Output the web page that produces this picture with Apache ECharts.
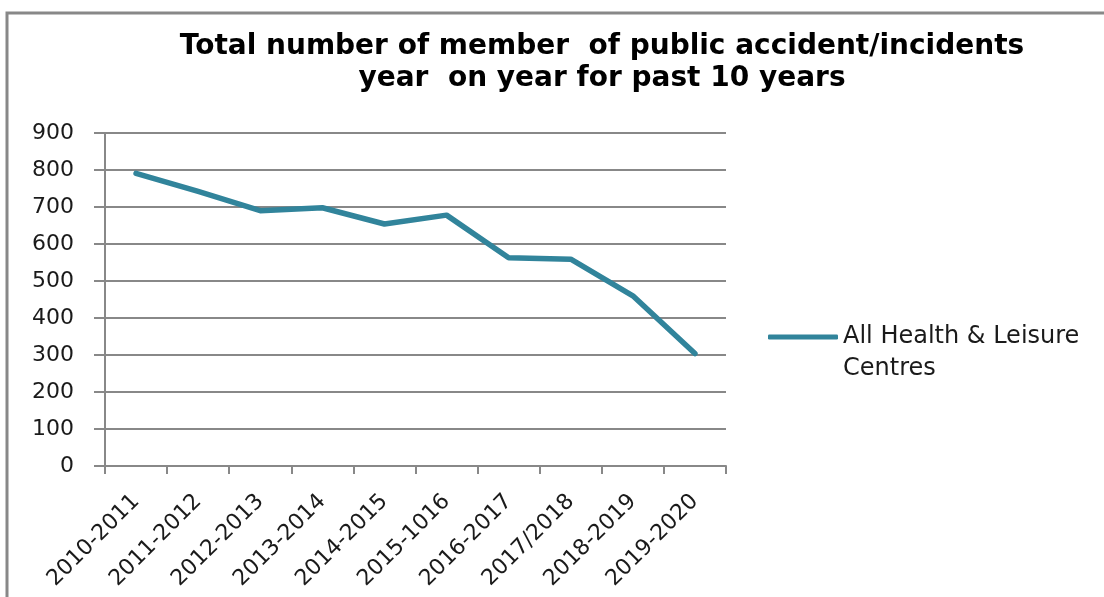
<!DOCTYPE html>
<html>
<head>
<meta charset="utf-8">
<script src="https://cdn.jsdelivr.net/npm/echarts@6/dist/echarts.min.js"></script>
<style>
  html, body { margin: 0; padding: 0; background: #ffffff; }
  #chart { width: 1104px; height: 597px; }
</style>
</head>
<body>
<div id="chart"></div>
<script>
// Seasons covered by the report
const seasons = ['2010-2011', '2011-2012', '2012-2013', '2013-2014', '2014-2015',
                 '2015-1016', '2016-2017', '2017/2018', '2018-2019', '2019-2020'];
// Member-of-public accidents/incidents across all centres
const incidents = [791, 742, 690, 698, 654, 678, 563, 559, 460, 304];
const seriesName = 'All Health & Leisure Centres';
const legendLines = ['All Health & Leisure', 'Centres'];
const titleLines = ['Total number of member  of public accident/incidents',
                    'year  on year for past 10 years'];

const labelFont = 'DejaVu Sans';
const grey = '#888888';
const teal = '#31849B';

const chart = echarts.init(document.getElementById('chart'), null, { renderer: 'canvas' });
chart.setOption({
  backgroundColor: '#ffffff',
  animation: false,
  graphic: [{
    type: 'rect',
    shape: { x: 7, y: 13, width: 1200, height: 700 },
    style: { fill: 'none', stroke: grey, lineWidth: 3 },
    silent: true
  }],
  title: {
    text: titleLines.join('\n'),
    left: 597,
    top: 26,
    textAlign: 'center',
    textStyle: {
      fontFamily: 'DejaVu Sans',
      fontWeight: 'bold',
      fontSize: 28,
      lineHeight: 32,
      color: '#000000'
    }
  },
  legend: {
    left: 763,
    top: 284,
    orient: 'vertical',
    itemWidth: 70,
    itemHeight: 5,
    icon: 'roundRect',
    // blank first line keeps the line icon level with the first text line
    formatter: () => '\n' + legendLines.join('\n'),
    textStyle: {
      fontFamily: labelFont,
      fontSize: 24,
      lineHeight: 32,
      color: '#1a1a1a'
    }
  },
  grid: { left: 105, right: 378, top: 133, bottom: 131, containLabel: false },
  xAxis: {
    type: 'category',
    data: seasons,
    boundaryGap: true,
    axisLine: { lineStyle: { color: grey, width: 2 } },
    axisTick: { show: true, length: 8, alignWithLabel: false, lineStyle: { color: grey, width: 2 } },
    axisLabel: {
      rotate: 45,
      interval: 0,
      margin: 32,
      fontFamily: labelFont,
      fontSize: 22,
      color: '#1a1a1a'
    },
    splitLine: { show: false }
  },
  yAxis: {
    type: 'value',
    min: 0,
    max: 900,
    interval: 100,
    axisLine: { show: true, lineStyle: { color: grey, width: 2 } },
    axisTick: { show: true, length: 11, lineStyle: { color: grey, width: 2 } },
    axisLabel: {
      margin: 31,
      fontFamily: labelFont,
      fontSize: 22,
      color: '#1a1a1a'
    },
    splitLine: { show: true, lineStyle: { color: grey, width: 2 } }
  },
  series: [{
    name: seriesName,
    type: 'line',
    data: incidents,
    symbol: 'none',
    color: teal,
    lineStyle: { color: teal, width: 5.5, cap: 'round', join: 'round' }
  }]
});
</script>
</body>
</html>
